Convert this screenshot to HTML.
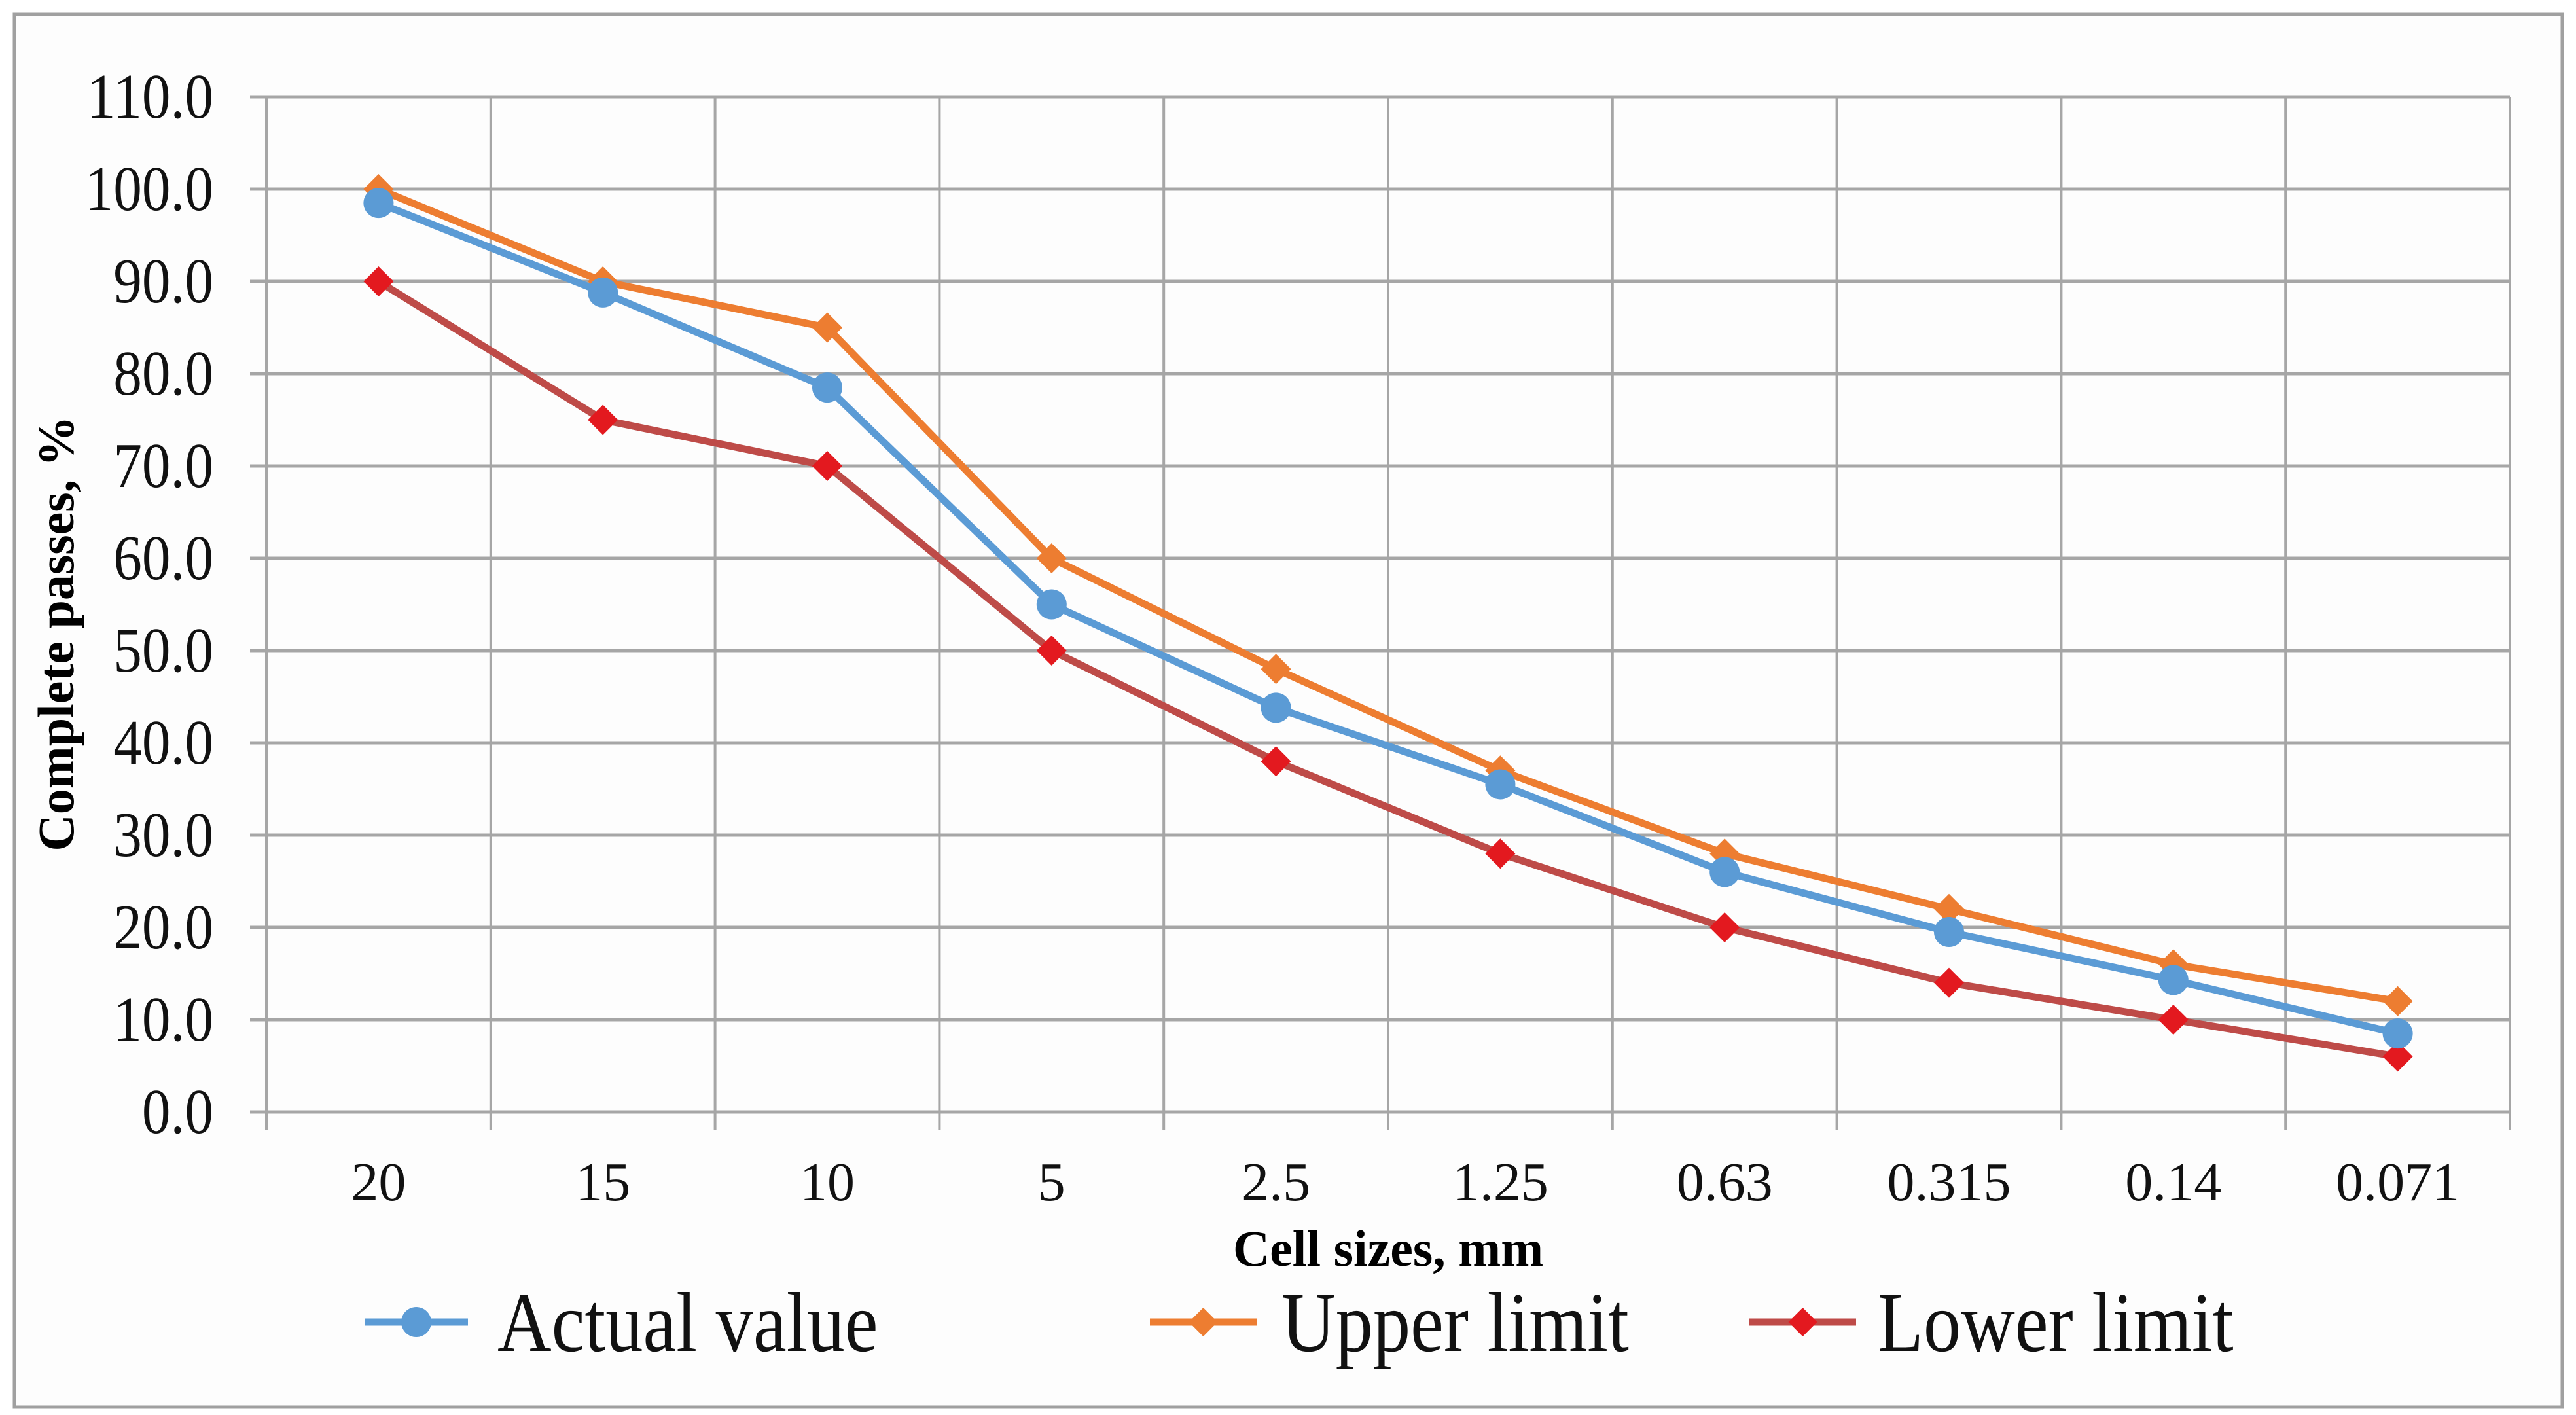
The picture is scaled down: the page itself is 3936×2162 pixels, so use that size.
<!DOCTYPE html>
<html><head><meta charset="utf-8"><style>
html,body{margin:0;padding:0;background:#fff;}
svg{display:block;font-family:"Liberation Serif",serif;}
</style></head><body>
<svg id="chart" width="3936" height="2162" viewBox="0 0 3936 2162" xmlns="http://www.w3.org/2000/svg">
<rect x="22" y="22" width="3893" height="2128" fill="#fdfdfd" stroke="#a0a0a0" stroke-width="5"/>
<g id="grid"></g><g id="series"></g><g id="labels"></g>
<text x="2121" y="1934" font-size="78" font-weight="bold" text-anchor="middle">Cell sizes, mm</text>
<text transform="translate(112,968) rotate(-90)" font-size="78" font-weight="bold" text-anchor="middle">Complete  passes, %</text>
<g id="legend"></g>
</svg>
<script>
const categories = ["20","15","10","5","2.5","1.25","0.63","0.315","0.14","0.071"];
const actualValues = [98.5, 88.8, 78.5, 55.0, 43.8, 35.5, 26.0, 19.5, 14.3, 8.5];
const upperValues = [100, 90, 85, 60, 48, 37, 28, 22, 16, 12];
const lowerValues = [90, 75, 70, 50, 38, 28, 20, 14, 10, 6];
const yTicks = [0,10,20,30,40,50,60,70,80,90,100,110];

const NS="http://www.w3.org/2000/svg";
const L=407,R=3835,T=148,B=1699,YMAX=110;
const bw=(R-L)/categories.length;
const xc=i=>L+bw*(i+0.5);
const y=v=>B-(v/YMAX)*(B-T);
function mk(tag,attrs,parent){const e=document.createElementNS(NS,tag);for(const k in attrs)e.setAttribute(k,attrs[k]);parent.appendChild(e);return e;}
const grid=document.getElementById('grid'),labels=document.getElementById('labels'),series=document.getElementById('series'),legend=document.getElementById('legend');

yTicks.forEach(t=>{
  const ln=mk('line',{x1:L-25,x2:R,y1:y(t),y2:y(t),stroke:'#a6a6a6','stroke-width':5},grid);
  
  
  const tx=mk('text',{transform:`translate(326,${y(t)+32}) scale(0.97,1.08)`,'font-size':90,'text-anchor':'end',fill:'#111'},labels);
  tx.textContent=t.toFixed(1);
  
  
});
for(let i=0;i<=categories.length;i++){
  const x=L+bw*i;
  const ln=mk('line',{x1:x,x2:x,y1:T,y2:B+28,stroke:'#a6a6a6','stroke-width':4},grid);
  
  
}
categories.forEach((c,i)=>{
  const tx=mk('text',{x:xc(i),y:1834,'font-size':84,'text-anchor':'middle',fill:'#111'},labels);
  tx.textContent=c;
  
  
});
function diamond(cx,cy,s,fill,parent){return mk('polygon',{points:`${cx},${cy-s} ${cx+s},${cy} ${cx},${cy+s} ${cx-s},${cy}`,fill:fill},parent);}
const defs=[
  {name:'upper-limit',vals:upperValues,line:'#ED7D31',mark:'#ED7D31',shape:'d'},
  {name:'lower-limit',vals:lowerValues,line:'#BE4B48',mark:'#E3191F',shape:'d'},
  {name:'actual-value',vals:actualValues,line:'#5B9BD5',mark:'#5B9BD5',shape:'c'}
];
defs.forEach(s=>{
  const g=mk('g',{},series);
  
  
  const pl=mk('polyline',{points:s.vals.map((v,i)=>xc(i)+','+y(v)).join(' '),fill:'none',stroke:s.line,'stroke-width':11,'stroke-linejoin':'round'},g);
  
  
  s.vals.forEach((v,i)=>{
    let m;
    if(s.shape==='c') m=mk('circle',{cx:xc(i),cy:y(v),r:23,fill:s.mark},g);
    else m=diamond(xc(i),y(v),23,s.mark,g);
    
    
  });
});
const leg=[
  {name:'actual-value',text:'Actual value',x1:557,x2:715,line:'#5B9BD5',mark:'#5B9BD5',shape:'c',tx:760},
  {name:'upper-limit',text:'Upper limit',x1:1757,x2:1920,line:'#ED7D31',mark:'#ED7D31',shape:'d',tx:1958},
  {name:'lower-limit',text:'Lower limit',x1:2673,x2:2836,line:'#BE4B48',mark:'#E3191F',shape:'d',tx:2869}
];
const LY=2020;
leg.forEach(e=>{
  const g=mk('g',{},legend);
  
  
  mk('line',{x1:e.x1,x2:e.x2,y1:LY,y2:LY,stroke:e.line,'stroke-width':11},g);
  const cx=(e.x1+e.x2)/2;
  if(e.shape==='c') mk('circle',{cx:cx,cy:LY,r:23,fill:e.mark},g);
  else diamond(cx,LY,22,e.mark,g);
  const t=mk('text',{transform:`translate(${e.tx},${LY+44}) scale(0.97,1.1)`,'font-size':118,fill:'#111'},g);
  t.textContent=e.text;
});
</script>
</body></html>
